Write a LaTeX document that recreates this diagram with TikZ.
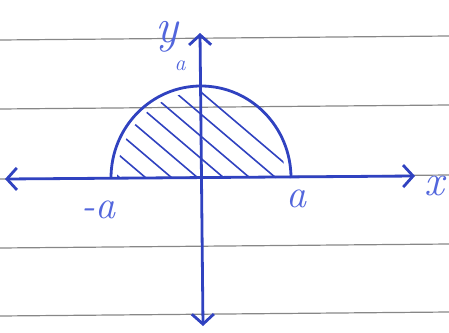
\documentclass[tikz,border=0pt]{standalone}
\usetikzlibrary{arrows.meta}
\definecolor{inkBlue}{RGB}{48,66,192}
\definecolor{inkLabel}{RGB}{82,102,220}
\definecolor{ruleGray}{RGB}{135,135,135}
\begin{document}
\begin{tikzpicture}[
                x=0.5pt,y=-0.5pt,
                semiRule/.style={draw=ruleGray,line width=0.6pt},
                semiAxis/.style={draw=inkBlue,line width=1.4pt,
                                 {Straight Barb[length=5pt,width=11pt]}-{Straight Barb[length=5pt,width=11pt]}},
                semiArc/.style={draw=inkBlue,line width=1.4pt},
                semiHatch/.style={draw=inkBlue,line width=0.8pt},
                semiLabel/.style={text=inkLabel,inner sep=0pt,font=\itshape}]
                \useasboundingbox (0,0) rectangle (449,332);
                % ruled paper
                \foreach \ry in {39,108,178,247,315}
                    \draw[semiRule] (0,\ry+1) -- (449,\ry-3);
                \coordinate (o) at (201,178);
                \coordinate (xl) at (5,179);
                \coordinate (xr) at (415,176);
                \coordinate (yt) at (200,33);
                \coordinate (yb) at (203,326);
                % hatching
                \begin{scope}
                    \clip (117,178) arc (180:360:84 and 86) -- cycle;
                    \foreach \hx in {120,146,...,310}
                        \draw[semiHatch] (\hx-120,178-102) -- (\hx,178);
                \end{scope}
                \draw[semiArc] (111,178) arc (180:360:90 and 92);
                \draw[semiAxis] (xl) -- (xr);
                \draw[semiAxis] (yb) -- (yt);
                \node[semiLabel,font=\itshape\fontsize{24}{24}\selectfont] (ylab) at (167,37) {y};
                \node[semiLabel,font=\itshape\fontsize{11}{11}\selectfont] (ytick) at (180,66) {a};
                \node[semiLabel,font=\itshape\fontsize{20}{20}\selectfont] (xneg) at (98,210) {-a};
                \node[semiLabel,font=\itshape\fontsize{20}{20}\selectfont] (xpos) at (296,199) {a};
                \node[semiLabel,font=\itshape\fontsize{22}{22}\selectfont] (xlab) at (434,186) {x};
            \end{tikzpicture}
\end{document}
